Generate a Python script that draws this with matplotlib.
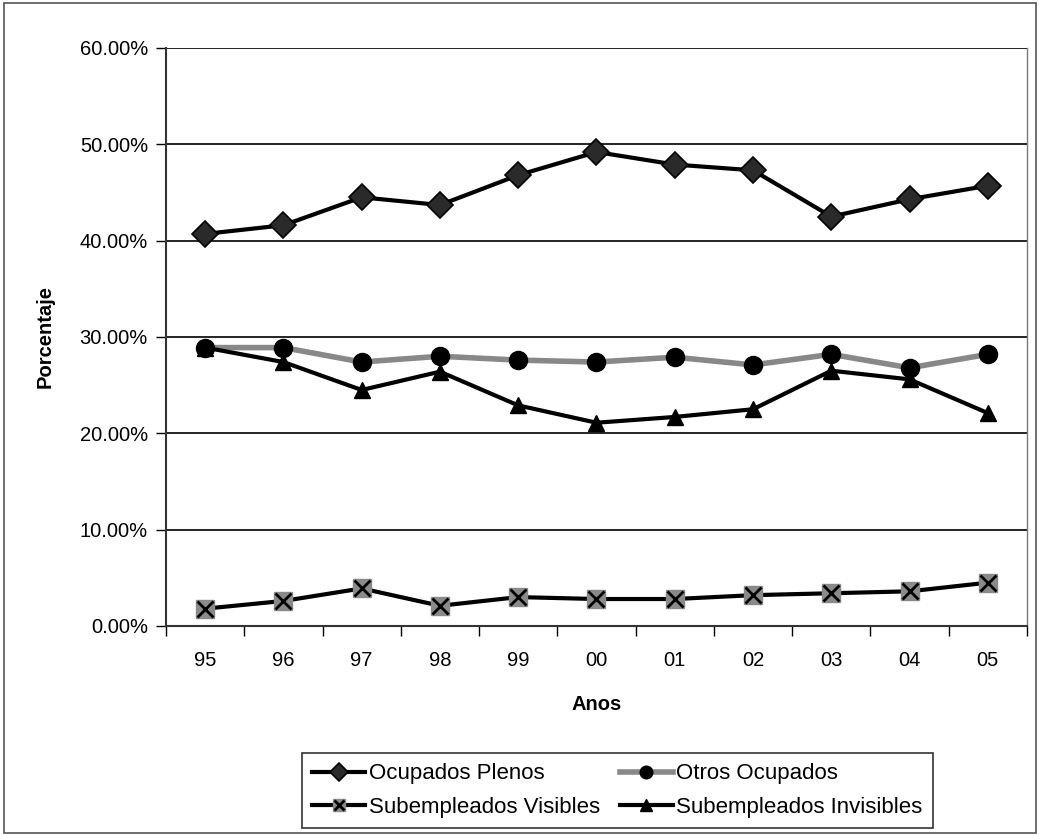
import matplotlib
matplotlib.use('Agg')
import matplotlib.pyplot as plt
from matplotlib.patches import Rectangle
from matplotlib.legend_handler import HandlerTuple
from matplotlib.ticker import FixedLocator, PercentFormatter

plt.rcParams['font.family'] = ['Liberation Sans', 'DejaVu Sans']

# datos
anos = ['95', '96', '97', '98', '99', '00', '01', '02', '03', '04', '05']
ocupados_plenos = [40.7, 41.6, 44.5, 43.7, 46.8, 49.2, 47.9, 47.3, 42.5, 44.3, 45.7]
otros_ocupados = [28.9, 28.9, 27.4, 28.0, 27.6, 27.4, 27.9, 27.1, 28.2, 26.8, 28.2]
sub_visibles = [1.8, 2.6, 3.9, 2.1, 3.0, 2.8, 2.8, 3.2, 3.4, 3.6, 4.5]
sub_invisibles = [28.9, 27.4, 24.5, 26.4, 22.9, 21.1, 21.7, 22.5, 26.5, 25.6, 22.1]

fig = plt.figure(figsize=(10.4, 8.36), dpi=100)
ax = fig.add_axes([0.1596, 0.2512, 0.9875 - 0.1596, 0.9426 - 0.2512])

# marco exterior
fig.patches.append(Rectangle((0.004, 0.004), 0.992, 0.992, transform=fig.transFigure,
                             fill=False, edgecolor='#555555', linewidth=1.2))

x = list(range(len(anos)))

l1, = ax.plot(x, ocupados_plenos, color='black', lw=3, marker='D', ms=13,
              mfc='#2a2a2a', mec='black', mew=1.2, zorder=5)
l2, = ax.plot(x, otros_ocupados, color='#888888', lw=4, marker='o', ms=13,
              mfc='black', mec='black', zorder=4)
l3a, = ax.plot(x, sub_visibles, color='black', lw=3, marker='s', ms=13,
               mfc='#8a8a8a', mec='#8a8a8a', zorder=4)
l3b, = ax.plot(x, sub_visibles, ls='none', marker='x', ms=11, mec='black',
               mew=2, zorder=6)
l4, = ax.plot(x, sub_invisibles, color='black', lw=3, marker='^', ms=12,
              mfc='black', mec='black', zorder=4)

ax.set_xlim(-0.5, len(anos) - 0.5)
ax.set_ylim(0, 60)
ax.yaxis.set_major_locator(FixedLocator([0, 10, 20, 30, 40, 50, 60]))
ax.yaxis.set_major_formatter(PercentFormatter(decimals=2))
ax.grid(axis='y', color='black', lw=1.2)
ax.set_axisbelow(True)

ax.set_xticks(x)
ax.set_xticklabels(anos)
ax.set_xticks([i - 0.5 for i in range(len(anos) + 1)], minor=True)
ax.tick_params(axis='x', which='major', length=0, labelsize=14.5, pad=18)
ax.tick_params(axis='x', which='minor', length=7, width=1)
ax.tick_params(axis='y', length=7, width=1, labelsize=14.5, pad=6)

for s in ['top', 'right']:
    ax.spines[s].set_visible(False)
ax.spines['left'].set_color('#333333')
ax.spines['bottom'].set_color('#333333')
ax.spines['left'].set_linewidth(1.5)
ax.spines['bottom'].set_linewidth(1.5)
ax.plot([1, 1], [0, 1], transform=ax.transAxes, color='#777777', lw=1, clip_on=False)

ax.set_ylabel('Porcentaje', fontsize=14.5, fontweight='bold', labelpad=18)
ax.set_xlabel('Anos', fontsize=14.5, fontweight='bold', labelpad=18)

leg = fig.legend([l1, (l3a, l3b), l2, l4],
                 ['Ocupados Plenos', 'Subempleados Visibles', 'Otros Ocupados', 'Subempleados Invisibles'],
                 handler_map={tuple: HandlerTuple(ndivide=1)},
                 ncol=2, loc='center', bbox_to_anchor=(0.5935, 0.0545),
                 frameon=True, fancybox=False, edgecolor='black', fontsize=16,
                 handlelength=2.4, handletextpad=0.15, columnspacing=0.9,
                 borderpad=0.45, labelspacing=0.55, markerscale=0.7,
                 borderaxespad=0)
leg.get_frame().set_linewidth(1.2)

fig.savefig('out.png', dpi=100)
